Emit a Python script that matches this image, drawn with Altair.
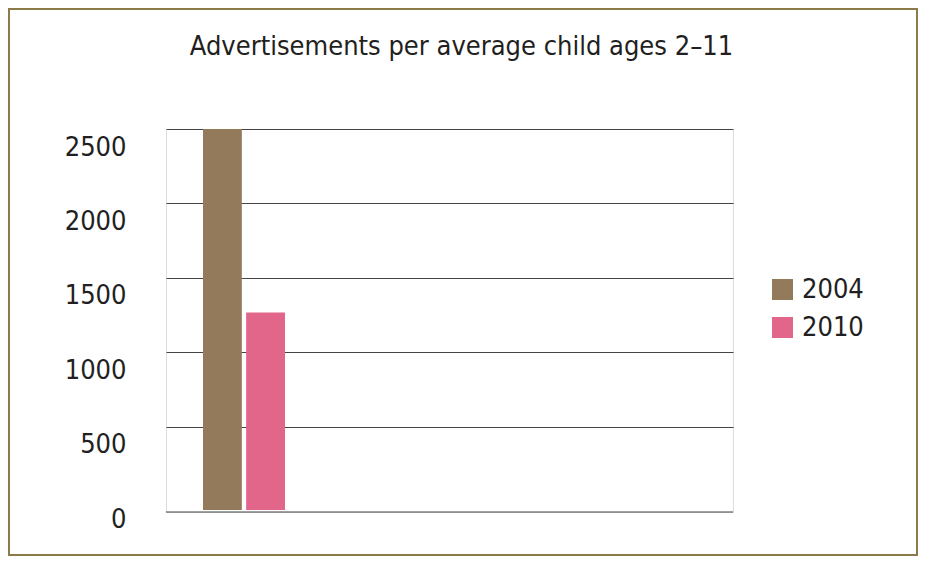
import altair as alt
import pandas as pd

# ---- data ----
years = ["2004", "2010"]
ads = [2500, 1268]
group = ["Advertisements per average child ages 2–11"] * 2
colors = ["#937a5a", "#e2658a"]
tick_values = [0, 500, 1000, 1500, 2000, 2500]

TITLE = "Advertisements per average child ages 2–11"
FONT = "DejaVu Sans Condensed, Roboto Condensed, Liberation Sans Narrow, Roboto, sans-serif"
TEXT = "#231f20"

W, H = 567, 383
PAD = {"left": 158, "top": 121, "right": 185, "bottom": 44}
Y_MIN = -72      # bottom of the value axis (below 0, as in the reference)
BAR_BASE = -58   # bars start slightly below zero in the reference

df = pd.DataFrame({"group": group, "year": years, "ads": ads})

bars = alt.Chart(df).mark_bar().encode(
    x=alt.X("group:N", title=None,
            scale=alt.Scale(paddingInner=0.662, paddingOuter=1, align=0.0763),
            axis=None),
    xOffset=alt.XOffset("year:N", scale=alt.Scale(paddingInner=0.1, paddingOuter=0)),
    y=alt.Y("ads:Q", title=None,
            scale=alt.Scale(domain=[Y_MIN, 2500], nice=False, zero=False),
            axis=alt.Axis(values=tick_values, format="d", labelOffset=18,
                          labelPadding=40, ticks=False, domain=False, grid=True,
                          gridColor=alt.condition("datum.value === 0",
                                                  alt.value("transparent"),
                                                  alt.value("#444444")),
                          gridWidth=1.2,
                          labelFontSize=27, labelFont=FONT, labelColor=TEXT)),
    y2=alt.Y2(datum=BAR_BASE),
    color=alt.Color("year:N", title=None,
                    scale=alt.Scale(domain=years, range=colors),
                    legend=alt.Legend(orient="none", legendX=603, legendY=147,
                                      symbolType="square", symbolSize=441,
                                      symbolStrokeWidth=0, symbolOpacity=1,
                                      labelFontSize=27, labelFont=FONT,
                                      labelColor=TEXT, labelOffset=6,
                                      rowPadding=10)),
)

baseline = alt.Chart(alt.Data(values=[{"v": Y_MIN}])).mark_rule(
    color="#444444", strokeWidth=1.2
).encode(y=alt.Y("v:Q"), x=alt.value(0), x2=alt.value(W))

frame = alt.Chart(alt.Data(values=[{}])).mark_rect(
    fillOpacity=0, stroke="#8c7a4b", strokeWidth=2
).encode(
    x=alt.value(-157), x2=alt.value(W + PAD["right"] - 1),
    y=alt.value(-120), y2=alt.value(H + PAD["bottom"] - 1),
)

chart = alt.layer(bars, baseline, frame).properties(
    width=W, height=H,
    padding=PAD,
    autosize=alt.AutoSizeParams(type="none"),
    title=alt.TitleParams(TITLE, font=FONT, fontSize=27, fontWeight="normal",
                          color=TEXT, anchor="middle", frame="group", dx=12,
                          baseline="alphabetic", offset=-74),
).configure_view(stroke="transparent", strokeWidth=0, strokeOpacity=0).configure(background="white")

chart.save("out.html", embed_options={"renderer": "svg", "actions": False})
